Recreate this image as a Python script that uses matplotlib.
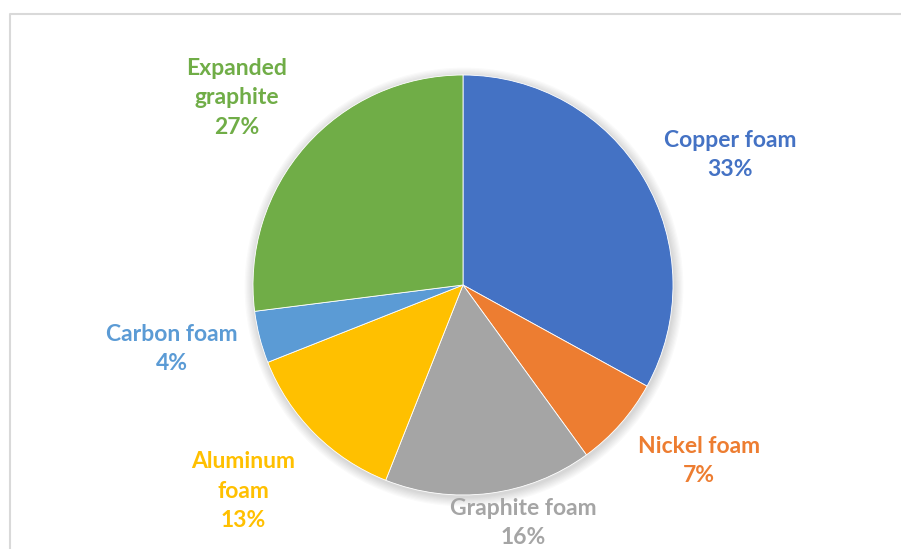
import matplotlib.pyplot as plt
from matplotlib.patches import Circle

plt.rcParams['font.family'] = ['Lato', 'DejaVu Sans']

# Share of each foam / graphite material
materials = ["Copper foam", "Nickel foam", "Graphite foam",
             "Aluminum\nfoam", "Carbon foam", "Expanded\ngraphite"]
shares = [33, 7, 16, 13, 4, 27]
colors = ["#4472C4", "#ED7D31", "#A5A5A5", "#FFC000", "#5B9BD5", "#70AD47"]

# label anchor points (pixels from top-left of the figure)
label_xy = [(730, 155), (699, 461), (523, 523), (243, 491), (172, 349), (237, 98)]

W, H = 901, 549
cx, cy, r = 463, 285, 210

fig = plt.figure(figsize=(W / 100, H / 100), dpi=100)
ax = fig.add_axes([0, 0, 1, 1])

# soft shadow behind the pie
for i in range(8):
    ax.add_patch(Circle((cx + 1, H - cy - 2), r + 1 + i * 1.2,
                        facecolor="black", edgecolor="none",
                        alpha=0.018, zorder=0))
ax.add_patch(Circle((cx, H - cy), r, facecolor="white", edgecolor="none", zorder=0.5))

wedges, _ = ax.pie(shares, colors=colors, startangle=90, counterclock=False,
                   center=(cx, H - cy), radius=r,
                   wedgeprops=dict(edgecolor="white", linewidth=0.6))

for name, val, col, (lx, ly) in zip(materials, shares, colors, label_xy):
    ax.text(lx, H - ly, f"{name}\n{val}%", color=col, fontsize=16.5,
            fontweight="bold", ha="center", va="center", linespacing=1.5)

# chart area border
ax.plot([10, 10, W + 5], [-5, H - 14, H - 14], color="#D9D9D9", lw=1.5,
        clip_on=False)

ax.set_xlim(0, W)
ax.set_ylim(0, H)
ax.set_aspect("equal")
ax.axis("off")

fig.savefig("out.png", dpi=100)
